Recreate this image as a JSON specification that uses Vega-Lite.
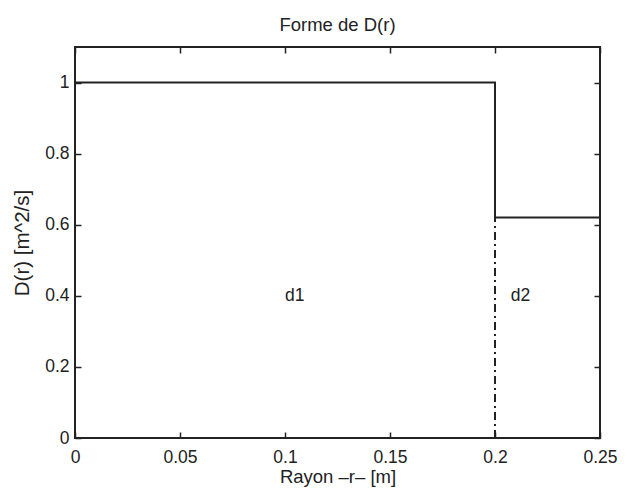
{
  "$schema": "https://vega.github.io/schema/vega-lite/v6.json",
  "autosize": "none",
  "width": 525,
  "height": 391,
  "padding": {"left": 75, "top": 47, "right": 27, "bottom": 59},
  "background": "white",
  "title": {"text": "Forme de D(r)", "fontSize": 18.5, "font": "Liberation Sans", "fontWeight": "normal", "color": "#222", "offset": 12},
  "config": {
    "view": {"stroke": "#222", "strokeWidth": 2},
    "axis": {"grid": false, "domain": false, "tickColor": "#222", "tickWidth": 1.5, "tickSize": -6, "labelFont": "Liberation Sans", "labelFontSize": 17.5, "labelColor": "#222", "titleFont": "Liberation Sans", "titleFontSize": 18.5, "titleFontWeight": "normal", "titleColor": "#222", "format": "~g"}
  },
  "datasets": {
    "step": [
      {"r": 0, "D": 1.0, "o": 1},
      {"r": 0.2, "D": 1.0, "o": 2},
      {"r": 0.2, "D": 0.62, "o": 3},
      {"r": 0.25, "D": 0.62, "o": 4}
    ],
    "sep": [{"r": 0.2, "D0": 0, "D1": 0.62}],
    "labels": [
      {"r": 0.1, "D": 0.4, "t": "d1"},
      {"r": 0.2075, "D": 0.4, "t": "d2"}
    ]
  },
  "layer": [
    {
      "data": {"name": "step"},
      "mark": {"type": "line", "color": "#222", "strokeWidth": 2},
      "encoding": {
        "x": {"field": "r", "type": "quantitative", "scale": {"domain": [0, 0.25], "nice": false},
              "axis": {"orient": "bottom", "title": "Rayon \u2013r\u2013 [m]", "values": [0, 0.05, 0.1, 0.15, 0.2, 0.25], "labelPadding": 16, "titlePadding": 2, "labelFlush": false}},
        "y": {"field": "D", "type": "quantitative", "scale": {"domain": [0, 1.1], "nice": false},
              "axis": {"orient": "left", "title": "D(r) [m^2/s]", "titleFontSize": 20.5, "values": [0, 0.2, 0.4, 0.6, 0.8, 1], "labelPadding": 12, "titlePadding": 12}},
        "order": {"field": "o", "type": "quantitative"}
      }
    },
    {
      "data": {"name": "sep"},
      "mark": {"type": "rule", "color": "#222", "strokeWidth": 2, "strokeDash": [8, 4, 2, 4]},
      "encoding": {
        "x": {"field": "r", "type": "quantitative", "axis": {"orient": "top", "labels": false, "title": null, "values": [0, 0.05, 0.1, 0.15, 0.2, 0.25]}},
        "y": {"field": "D0", "type": "quantitative", "axis": {"orient": "right", "labels": false, "title": null, "values": [0, 0.2, 0.4, 0.6, 0.8, 1]}},
        "y2": {"field": "D1"}
      }
    },
    {
      "data": {"name": "labels"},
      "mark": {"type": "text", "font": "Liberation Sans", "fontSize": 17.5, "color": "#222", "align": "left", "baseline": "middle"},
      "encoding": {
        "x": {"field": "r", "type": "quantitative", "axis": null},
        "y": {"field": "D", "type": "quantitative", "axis": null},
        "text": {"field": "t"}
      }
    }
  ],
  "resolve": {"axis": {"x": "independent", "y": "independent"}}
}
